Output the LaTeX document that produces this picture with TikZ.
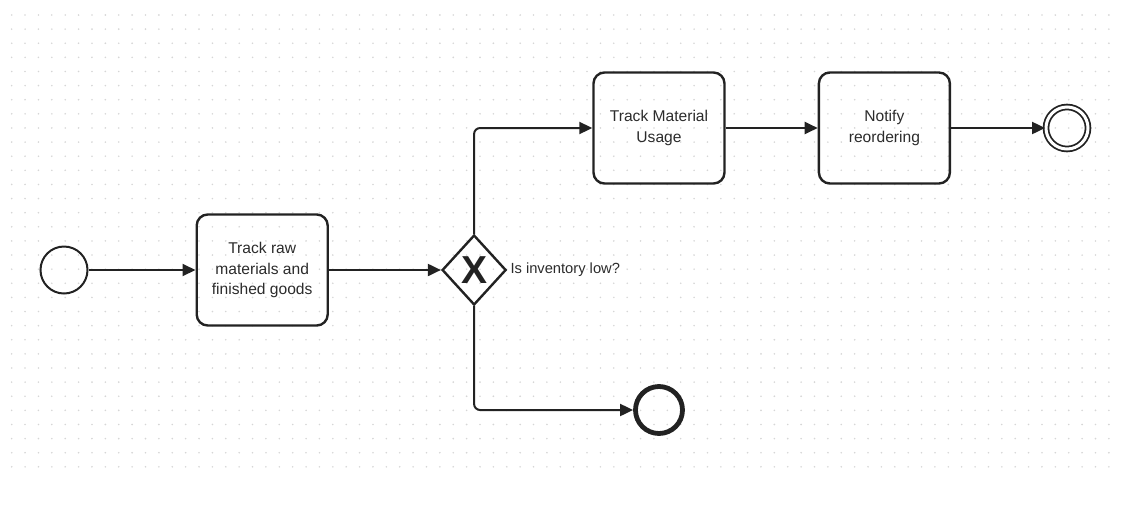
\documentclass[tikz,border=0pt]{standalone}
\usepackage{fontspec}
\setmainfont{Liberation Sans}
\usetikzlibrary{arrows.meta,positioning,shapes.geometric}
\definecolor{inkline}{HTML}{222222}
\definecolor{inktext}{HTML}{2B2B2B}
\definecolor{griddot}{HTML}{D6D6D6}

\begin{document}
\begin{tikzpicture}[x=1pt, y=-1pt,
  event/.style={draw=inkline, circle, line width=2pt, minimum size=47pt, inner sep=0pt},
  endevent/.style={draw=inkline, circle, line width=4.8pt, minimum size=47pt, inner sep=0pt},
  doubleevent/.style={draw=inkline, circle, double, double distance=3pt, line width=1.8pt, minimum size=42pt, inner sep=0pt},
  task/.style={draw=inkline, rounded corners=11pt, line width=2.4pt, minimum width=131pt, minimum height=111pt, align=center, text=inktext, font=\fontsize{15.6}{20.5}\selectfont},
  gateway/.style={draw=inkline, diamond, line width=2.4pt, minimum width=64pt, minimum height=70pt, inner sep=0pt, text=inkline, font=\fontsize{39}{39}\selectfont\bfseries},
  flow/.style={-{Triangle[length=13pt,width=12pt]}, line width=2pt, draw=inkline, rounded corners=6pt}
]
\useasboundingbox (0,0) rectangle (1127,523);
% dotted canvas
\foreach \i in {0,...,82}
  \foreach \j in {0,...,32}
    \fill[griddot] (11.7+\i*13.38, 15+\j*14.12) circle[radius=0.9pt];

\node[event] (start) at (64,270) {};
\node[task, right=107pt of start] (track) {Track raw\\materials and\\finished goods};
\node[gateway, right=112pt of track] (choice) {X};
\node[right=3pt of choice, inner sep=0pt, text=inktext, font=\fontsize{14.7}{16}\selectfont] (question) {Is inventory low?};
\node[task] (usage) at (659,128) {Track Material\\Usage};
\node[task, right=92pt of usage] (notify) {Notify\\reordering};
\node[doubleevent, right=94pt of notify] (finish) {};
\node[endevent] (stop) at (659,410) {};

\draw[flow] (start) -- (track);
\draw[flow] (track) -- (choice);
\draw[flow] (choice.north) |- (usage);
\draw[flow] (usage) -- (notify);
\draw[flow] (notify) -- (finish);
\draw[flow] (choice.south) |- (stop);
\end{tikzpicture}
\end{document}
